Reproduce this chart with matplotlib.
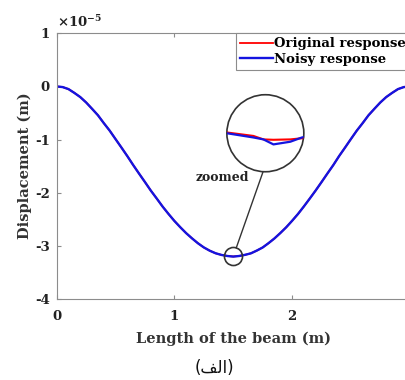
import numpy as np
import matplotlib
matplotlib.use("Agg")
import matplotlib.pyplot as plt
from matplotlib.patches import Circle, ConnectionPatch
from matplotlib.ticker import FuncFormatter

plt.rcParams["axes.unicode_minus"] = False
plt.rcParams["mathtext.fontset"] = "custom"
plt.rcParams["mathtext.rm"] = "DejaVu Serif:bold"
plt.rcParams["mathtext.bf"] = "DejaVu Serif:bold"
plt.rcParams["mathtext.it"] = "DejaVu Serif:bold"

# beam stations (m) and deflection (x 1e-5 m)
beam_x = np.linspace(0, 3, 61)
original = np.array([
    0.00, -0.01, -0.05, -0.12, -0.20, -0.30, -0.42, -0.54, -0.69, -0.83,
    -0.99, -1.15, -1.31, -1.48, -1.64, -1.80, -1.96, -2.11, -2.26, -2.40,
    -2.53, -2.65, -2.76, -2.86, -2.95, -3.03, -3.09, -3.14, -3.17, -3.19,
    -3.20,
    -3.19, -3.17, -3.14, -3.09, -3.03, -2.95, -2.86, -2.76, -2.65, -2.53,
    -2.40, -2.26, -2.11, -1.96, -1.80, -1.64, -1.48, -1.31, -1.15, -0.99,
    -0.83, -0.69, -0.54, -0.42, -0.30, -0.20, -0.12, -0.05, -0.01, 0.00]) * 1e-5
noisy = np.array([
    0.00, -0.011, -0.049, -0.121, -0.199, -0.301, -0.419, -0.541, -0.689, -0.831,
    -0.991, -1.149, -1.311, -1.479, -1.641, -1.799, -1.961, -2.109, -2.261, -2.399,
    -2.531, -2.649, -2.761, -2.859, -2.951, -3.029, -3.091, -3.139, -3.171, -3.191,
    -3.202,
    -3.191, -3.169, -3.141, -3.089, -3.031, -2.949, -2.861, -2.759, -2.651, -2.529,
    -2.401, -2.259, -2.111, -1.959, -1.801, -1.639, -1.481, -1.309, -1.151, -0.989,
    -0.831, -0.689, -0.541, -0.419, -0.301, -0.199, -0.121, -0.049, -0.011, 0.00]) * 1e-5

# zoomed window around midspan (x 1e-5 m)
zoom_x = [1.476, 1.480, 1.4938, 1.499, 1.5042, 1.513, 1.519, 1.524]
zoom_orig = [-3.1997, -3.1998, -3.2007, -3.2016, -3.2017, -3.2016, -3.2013, -3.2011]
zoom_noisy = [-3.1999, -3.2000, -3.2011, -3.2016, -3.2029, -3.2022, -3.2011, -3.2007]

x_ticks = [0, 1, 2, 3]
y_ticks = [-4, -3, -2, -1, 0, 1]

serif = "DejaVu Serif"
fs = 9.5
grey = "#8c8c8c"
blue = "#1414e0"

fig = plt.figure(figsize=(4.06, 3.8), dpi=100)
ax = fig.add_axes([0.1397, 0.2132, 0.8695, 0.699])

ax.plot(beam_x, original, color="red", lw=1.3, label="Original response")
ax.plot(beam_x, noisy, color=blue, lw=1.7, label="Noisy response")

ax.set_xlim(0, 3)
ax.set_ylim(-4e-5, 1e-5)
ax.set_xticks(x_ticks)
ax.set_yticks(np.array(y_ticks) * 1e-5)
ax.yaxis.set_major_formatter(FuncFormatter(lambda v, _: f"{round(v / 1e-5):d}"))

for s in ax.spines.values():
    s.set_color(grey)
    s.set_linewidth(0.8)
ax.tick_params(direction="in", length=3, width=0.8, color=grey,
               top=True, right=True, labelsize=fs)
ax.tick_params(axis="x", pad=8)
ax.tick_params(axis="y", pad=5)
for lab in ax.get_xticklabels() + ax.get_yticklabels():
    lab.set_family(serif)
    lab.set_fontweight("bold")
    lab.set_color("#222222")

ax.text(0.0, 1.012, r"$\times10^{-5}$", transform=ax.transAxes, ha="left",
        va="bottom", fontsize=fs, color="#222222")

ax.set_xlabel("Length of the beam (m)", family=serif, fontweight="bold",
              fontsize=10.5, color="#333333", labelpad=6)
ax.set_ylabel("Displacement (m)", family=serif, fontweight="bold",
              fontsize=10.5, color="#333333", labelpad=2)

leg = ax.legend(loc="upper right", borderaxespad=0, fancybox=False,
                framealpha=1, edgecolor=grey, handlelength=2.5,
                handletextpad=0.05, borderpad=0.3, labelspacing=0.2,
                prop={"family": serif, "weight": "bold", "size": fs})
leg.get_frame().set_linewidth(0.8)

# marker at the zoomed point
imin = int(np.argmin(original))
ax.plot(beam_x[imin], original[imin], "o", ms=13, mfc="none", mec="#333333", mew=1.2)

# circular zoom inset
ax_in = ax.inset_axes([0.482, 0.479, 0.218, 0.290])
ax_in.set_xlim(1.48, 1.52)
ax_in.set_ylim(-3.21, -3.19)
ax_in.axis("off")
clip = Circle((0.5, 0.5), 0.5, transform=ax_in.transAxes)
l1, = ax_in.plot(zoom_x, zoom_orig, color="red", lw=1.5)
l2, = ax_in.plot(zoom_x, zoom_noisy, color=blue, lw=1.6)
l1.set_clip_path(clip)
l2.set_clip_path(clip)
ax_in.add_patch(Circle((0.5, 0.5), 0.5, transform=ax_in.transAxes, fill=False,
                       edgecolor="#333333", lw=1.2, clip_on=False))

con = ConnectionPatch(xyA=(0.47, 0.0), coordsA=ax_in.transAxes,
                      xyB=(beam_x[imin], original[imin]), coordsB=ax.transData,
                      arrowstyle="-", shrinkB=6.5, color="#333333", lw=1.0)
fig.add_artist(con)

ax.text(0.545, 0.459, "zoomed", transform=ax.transAxes, ha="right", va="center",
        family=serif, fontweight="bold", fontsize=fs - 0.5, color="#222222")

# caption (visual order, presentation forms)
fig.text(214 / 406, 1 - 368 / 380, "(\ufed2\ufedf\ufe8d)", ha="center", va="center",
         family="DejaVu Sans", fontsize=12, color="#111111")

fig.savefig("out.png", dpi=100)
